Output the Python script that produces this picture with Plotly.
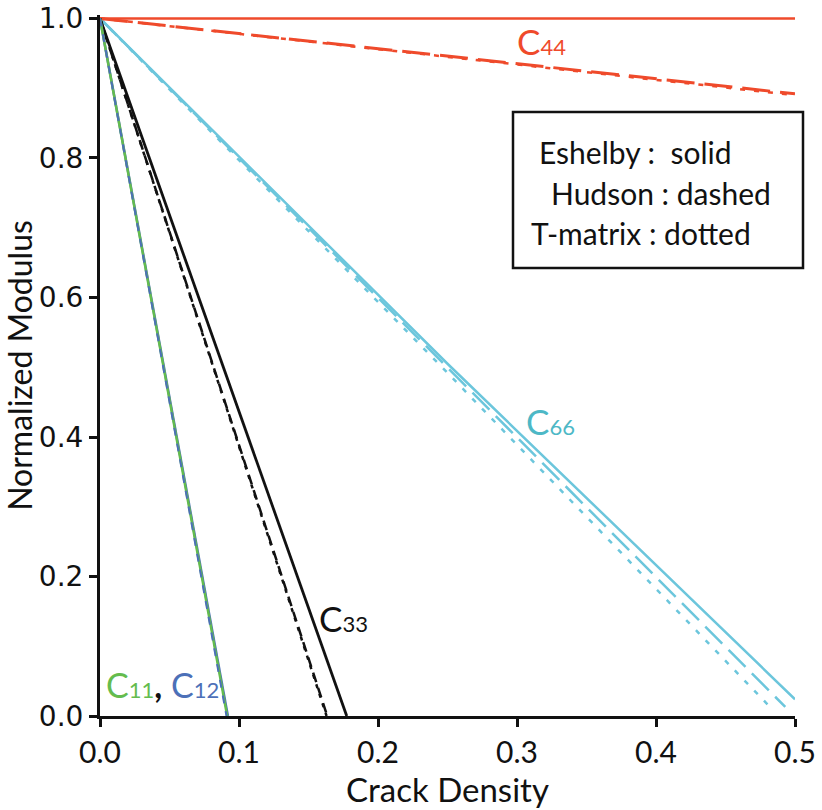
import plotly.graph_objects as go

# ---- data ----
x_ticks = [0.0, 0.1, 0.2, 0.3, 0.4, 0.5]
y_ticks = [0.0, 0.2, 0.4, 0.6, 0.8, 1.0]

# C44 (red)
c44_esh_x = [0.0, 0.5]
c44_esh_y = [1.0, 1.0]
c44_hud_x = [0.0, 0.5]
c44_hud_y = [1.0, 0.892]
c44_tm_x = [0.0, 0.5]
c44_tm_y = [1.0, 0.890]

# C66 (cyan)
c66_esh_x = [0.0, 0.25, 0.5]
c66_esh_y = [1.0, 0.505, 0.024]
c66_hud_x = [0.0, 0.25, 0.493]
c66_hud_y = [1.0, 0.500, 0.013]
c66_tm_x = [0.0, 0.25, 0.482]
c66_tm_y = [1.0, 0.492, 0.013]

# C33 (black)
c33_esh_x = [0.0, 0.1775]
c33_esh_y = [1.0, 0.0]
c33_hud_x = [0.0, 0.1635]
c33_hud_y = [1.0, 0.0]
c33_tm_x = [0.0, 0.1630]
c33_tm_y = [1.0, 0.0]

# C11 (green) / C12 (blue)
c11_esh_x = [0.0, 0.0915]
c11_esh_y = [1.0, 0.0]
c12_esh_x = [0.0, 0.0920]
c12_esh_y = [1.0, 0.0]
c12_hud_x = [0.0, 0.0910]
c12_hud_y = [1.0, 0.0]

RED = "#EF4A2B"
CYAN = "#6CC6DC"
GREEN = "#64BC4E"
BLUE = "#4C70B8"
BLACK = "#111111"

fig = go.Figure()

def add(x, y, color, width, dash):
    fig.add_trace(go.Scatter(x=x, y=y, mode="lines",
                             line=dict(color=color, width=width, dash=dash),
                             showlegend=False, hoverinfo="skip"))

# C66
add(c66_tm_x, c66_tm_y, CYAN, 2.5, "5px,9px")
add(c66_hud_x, c66_hud_y, CYAN, 2.5, "24px,9px")
add(c66_esh_x, c66_esh_y, CYAN, 2.5, "solid")
# C44
add(c44_tm_x, c44_tm_y, RED, 2.5, "5px,9px")
add(c44_hud_x, c44_hud_y, RED, 3, "28px,10px")
add(c44_esh_x, c44_esh_y, RED, 2.5, "solid")
# C33
add(c33_tm_x, c33_tm_y, BLACK, 2.5, "4px,6px")
add(c33_hud_x, c33_hud_y, BLACK, 2.5, "10px,6px")
add(c33_esh_x, c33_esh_y, BLACK, 2.8, "solid")
# C11 / C12
add(c12_esh_x, c12_esh_y, BLUE, 2.5, "solid")
add(c11_esh_x, c11_esh_y, GREEN, 2.5, "solid")
add(c12_hud_x, c12_hud_y, BLUE, 2, "8px,8px")

L, R, T, B = 100, 27, 15, 94
W, H = 822, 810
pw, ph = W - L - R, H - T - B

def px(xp):
    return (xp - L) / pw

def py(yp):
    return (H - B - yp) / ph

LABEL_FONT = "Lato, 'Open Sans', sans-serif"

def sub_label(main, sub, color, xp, yp):
    fig.add_annotation(
        x=px(xp), y=py(yp), xref="paper", yref="paper",
        xanchor="left", yanchor="middle", showarrow=False,
        text=f"{main}<span style='font-size:22px'>{sub}</span>",
        font=dict(family=LABEL_FONT, size=35, color=color))

sub_label("C", "44", RED, 515, 41)
sub_label("C", "66", "#4DB8C6", 524, 421)
sub_label("C", "33", BLACK, 317, 618)
fig.add_annotation(
    x=px(104), y=py(684), xref="paper", yref="paper",
    xanchor="left", yanchor="middle", showarrow=False,
    text=(f"<span style='color:{GREEN}'>C<span style='font-size:22px'>11</span></span>"
          f"<span style='color:{BLACK}'><b>,</b> </span>"
          f"<span style='color:{BLUE}'>C<span style='font-size:22px'>12</span></span>"),
    font=dict(family=LABEL_FONT, size=34, color=BLACK))

# method key box
fig.add_shape(type="rect", xref="paper", yref="paper",
              x0=px(513), x1=px(803), y0=py(268), y1=py(112),
              line=dict(color=BLACK, width=2.5), fillcolor="white", layer="above")
for txt, xs, ys in [("Eshelby :  solid", 537, 152),
                    ("Hudson : dashed", 549, 193),
                    ("T-matrix : dotted", 529, 233)]:
    fig.add_annotation(x=px(xs), y=py(ys), xref="paper", yref="paper",
                       xanchor="left", yanchor="middle", showarrow=False,
                       text=txt, font=dict(family=LABEL_FONT, size=30, color=BLACK))

fig.update_layout(
    width=W, height=H,
    margin=dict(l=L, r=R, t=T, b=B, autoexpand=False),
    paper_bgcolor="white", plot_bgcolor="white",
    xaxis=dict(range=[0, 0.5], tickvals=x_ticks, ticktext=[f"{v:.1f}" for v in x_ticks],
               showgrid=False, zeroline=False, showline=True, linecolor=BLACK, linewidth=3,
               ticks="outside", ticklen=8, tickwidth=3, tickcolor=BLACK,
               tickfont=dict(family=LABEL_FONT, size=30, color=BLACK),
               title=dict(text="Crack Density", standoff=8,
                          font=dict(family=LABEL_FONT, size=33, color=BLACK))),
    yaxis=dict(range=[0, 1.005], tickvals=y_ticks, ticktext=[f"{v:.1f}" for v in y_ticks],
               showgrid=False, zeroline=False, showline=True, linecolor=BLACK, linewidth=3,
               ticks="outside", ticklen=8, tickwidth=3, tickcolor=BLACK,
               tickfont=dict(family="'DejaVu Sans', sans-serif", size=28, color=BLACK),
               title=dict(text="Normalized Modulus", standoff=6,
                          font=dict(family=LABEL_FONT, size=32, color=BLACK))),
)

fig.write_html("out.html", config={"displayModeBar": False},
               post_script="document.body.style.margin='0';document.body.style.overflow='hidden';")
